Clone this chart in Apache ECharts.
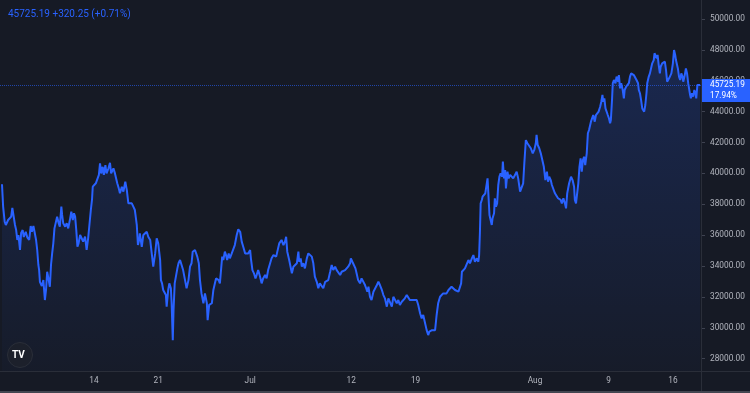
<!DOCTYPE html>
<html>
<head>
<meta charset="utf-8">
<script src="https://cdn.jsdelivr.net/npm/echarts@6/dist/echarts.min.js"></script>
<style>
html,body{margin:0;padding:0;background:#161A25;}
#chart{width:750px;height:393px;}
</style>
</head>
<body>
<div id="chart"></div>
<script>
// ---- data (BTC/USD, hours since 2021-06-04 00:00 UTC, close price) ----
const startDate = '2021-06-04T00:00:00Z';
const viewStartHour = -5.2;
const viewEndHour = 1825.4;
const pricePoints = [
[0,39300],[3,37850],[7,36870],[10,36660],[16,36980],[24,37200],[27,37760],[31,37700],[34,36660],[37,36330],
[40,35690],[43,36010],[47,35040],[50,36140],[54,36330],[57,35880],[62,36220],[66,35860],[71,35690],[75,36590],
[78,36220],[82,36590],[85,36220],[89,35690],[92,35040],[95,34070],[97,33740],[99,32980],[104,32700],[108,33090],
[110,32450],[112,31800],[115,32450],[118,33630],[122,33090],[125,32660],[128,34070],[131,34820],[134,35470],[137,36440],
[140,36550],[144,37200],[148,36770],[151,36550],[155,37850],[157,37310],[160,36770],[165,36550],[169,36770],[173,36440],
[178,37090],[181,37520],[185,36980],[188,37420],[191,37200],[194,36330],[197,35250],[200,35470],[204,36010],[208,35800],
[212,35580],[217,35900],[221,35040],[225,35800],[228,35900],[232,37630],[235,38280],[237,39140],[241,39100],[245,39360],
[249,39250],[253,39900],[256,40650],[259,40000],[263,40430],[266,39900],[270,40540],[273,40000],[278,40330],[282,40690],
[285,40000],[291,40330],[295,40000],[298,40110],[301,39360],[305,39030],[308,38710],[313,39140],[317,38820],[322,39460],
[326,38920],[330,38060],[334,37950],[339,38060],[343,37850],[347,37630],[352,36660],[355,35360],[359,35800],
[360,36120],[365,35250],[369,36010],[373,36120],[378,36220],[382,35900],[387,35690],[391,35800],[395,33960],[400,34820],
[404,35800],[408,35470],[413,34390],[415,33090],[418,32880],[421,32450],[426,32450],[428,32120],[430,31370],[434,32450],
[437,32880],[441,32560],[443,31590],[446,29200],[448,31150],[451,32880],[454,32880],[458,33850],[461,34180],[465,34390],
[469,34070],[473,33740],[478,33090],[482,32560],[487,33090],[491,33960],[495,34180],[498,34930],[501,34820],[504,35040],
[507,35150],[510,34610],[514,34180],[517,33090],[521,32230],[526,31590],[530,32230],[535,31590],[537,30500],[541,31480],
[545,31370],[548,31590],[552,32450],[556,32880],[559,33200],[562,33310],[566,33090],[569,32880],[572,33740],[575,34610],
[578,34390],[582,34930],[585,34710],[588,34390],[592,34820],[595,34500],[600,34820],[604,34930],[608,35360],[613,36010],
[617,36380],[622,36220],[626,35580],[630,35250],[635,34820],[639,34930],[643,34820],[648,35040],[650,34500],[654,33740],
[658,33530],[662,33200],[665,33420],[669,33740],[674,33310],[678,32880],[682,33200],[687,33420],[691,33200],[695,33740],
[700,33740],[704,34500],[709,34710],[716,34610],[720,34710],[724,35470],
[730,35690],[735,35360],[739,35580],[742,35900],[745,34930],[750,34390],[754,34500],[757,33530],[761,33960],[765,33850],
[770,34180],[774,34930],[776,34280],[780,34500],[783,33960],[787,34180],[791,33850],[796,34500],[800,34820],[804,34820],
[809,34610],[813,34180],[817,33310],[822,32980],[826,32560],[830,32880],[835,32980],[839,32560],[844,32980],[848,32880],
[852,33090],[857,33630],[861,34070],[865,33740],[870,33960],[874,33740],[878,33850],[883,33420],[887,33630],[891,33530],
[896,33740],[900,33850],[904,33960],[909,34180],[911,34500],[915,34280],[919,34180],[923,33850],[926,33530],[930,33090],
[935,32880],[939,33200],[944,33090],[948,32770],[951,32560],[954,32340],[957,32660],[961,32010],[965,31800],[970,32340],
[974,32450],[979,32770],[983,32980],[987,32770],[992,32450],[996,32120],[1000,31910],[1005,31370],[1009,31910],[1013,31800],
[1018,31370],[1022,32010],[1026,32120],[1031,31590],[1035,31800],[1039,31480],[1044,31690],[1048,31800],[1052,31910],[1057,32120],
[1061,32230],[1065,31800],[1070,31690],[1074,31800],[1079,31690],[1083,31800],[1087,31480],[1092,30930],[1096,30610],[1100,30830],
[1105,30720],[1109,29850],[1113,29530],[1116,29750],[1120,29640],[1123,29850],[1126,29750],[1131,29850],[1135,30830],[1139,31590],
[1144,32010],[1148,32010],[1152,32230],[1157,32120],[1161,32230],[1166,32450],[1170,32340],[1174,32660],[1179,32770],[1183,32450],
[1187,32560],[1192,32340],[1196,32230],[1199,32880],[1201,33630],[1205,33740],[1209,33850],[1214,33960],[1218,34390],[1222,34180],
[1227,34500],[1231,34710],[1235,34280],[1240,34500],[1244,34280],[1246,34710],[1248,36120],[1250,38060],[1253,38280],[1255,38490],
[1259,38390],[1262,38710],[1266,38600],[1268,39680],[1271,38280],[1273,37310],[1276,36980],[1279,36660],[1281,37090],[1285,37420],
[1287,38390],[1290,37850],[1293,38060],[1296,39250],[1299,39790],[1302,40000],[1306,39790],[1308,40760],[1311,39680],[1314,40220],
[1316,39030],[1320,40110],[1323,39680],[1327,39900],[1331,40000],[1335,39680],[1340,39790],[1344,40110],[1348,39680],[1353,38820],
[1357,38920],[1361,39360],[1364,40650],[1368,42160],[1372,41950],[1376,41840],[1381,41630],[1386,41300],[1390,41520],[1394,41950],
[1396,42490],[1399,41840],[1403,41630],[1407,41300],[1412,41190],[1415,40430],[1419,39570],[1423,40110],[1426,39460],[1429,39790],
[1433,39570],[1436,39250],[1440,39360],[1444,38710],[1449,38600],[1452,38390],[1455,38490],
[1459,38280],[1462,38060],[1466,38390],[1470,38060],[1473,37740],[1476,38710],[1481,39360],[1486,39790],[1490,39570],[1494,39140],
[1496,38280],[1499,38060],[1502,38060],[1505,39360],[1508,40430],[1511,40980],[1514,40110],[1517,40870],[1520,41080],[1523,40540],
[1527,41300],[1530,42600],[1533,42810],[1536,43130],[1538,43350],[1542,43460],[1544,43780],[1548,43350],[1551,43780],[1555,43670],
[1558,44000],[1562,44320],[1565,44640],[1568,45080],[1570,44640],[1573,44860],[1576,44210],[1579,44320],[1582,43780],[1585,43570],
[1588,43240],[1590,43460],[1593,44750],[1595,45840],[1598,46050],[1602,45840],[1605,46270],[1609,45940],[1611,46370],[1614,45510],
[1617,45840],[1621,45400],[1624,44860],[1626,45400],[1630,45620],[1634,45510],[1637,45840],[1640,46270],[1643,46480],[1647,46590],
[1650,46370],[1654,46480],[1657,46050],[1661,45840],[1663,45400],[1666,45190],[1669,44750],[1672,44210],[1675,44100],[1677,44000],
[1680,44430],[1683,45190],[1685,45840],[1689,46270],[1692,46480],[1695,46590],[1698,47130],[1702,47340],[1704,47780],[1707,47670],
[1710,47450],[1712,47670],[1715,47020],[1718,46480],[1720,46910],[1724,47130],[1727,47020],[1731,47240],[1734,46700],[1737,45940],
[1739,45840],[1742,46160],[1744,46270],[1748,46480],[1752,47130],[1755,47990],[1758,47670],[1760,47340],[1763,47450],[1765,46800],
[1768,46270],[1771,46050],[1774,46480],[1777,46270],[1779,45940],[1783,46370],[1786,46800],[1789,46480],[1792,45840],[1794,45730],
[1797,45080],[1799,44860],[1802,45190],[1805,44970],[1808,45400],[1811,45190],[1813,44860],[1816,45730],[1820,45840],[1823,45725.19]
];
const lastPrice = 45725.19;
const headerText = '45725.19 +320.25 (+0.71%)';
const priceBoxLines = ['45725.19', '17.94%'];
const yMin = 27203, yMax = 51231;
const xTickDates = ['2021-06-14','2021-06-21','2021-07-01','2021-07-12','2021-07-19','2021-08-01','2021-08-09','2021-08-16'];
const xTickLabels = ['14','21','Jul','12','19','Aug','9','16'];

// ---- build ----
const startMs = Date.parse(startDate);
const H = 3600000;
const tickHours = xTickDates.map(d => Math.round((Date.parse(d + 'T00:00:00Z') - startMs) / H));
const FONT = 'Roboto, "Liberation Sans", sans-serif';
const BLUE = '#2962FF';

const chart = echarts.init(document.getElementById('chart'), null, {renderer: 'canvas'});
chart.setOption({
  animation: false,
  backgroundColor: '#161A25',
  textStyle: {fontFamily: FONT},
  grid: {left: 0, top: 0, width: 701, height: 371, containLabel: false},
  xAxis: {
    type: 'value',
    min: viewStartHour,
    max: viewEndHour,
    axisLine: {show: false, onZero: false},
    axisTick: {show: false},
    splitLine: {show: false},
    axisLabel: {
      customValues: tickHours,
      formatter: function (v) { const i = tickHours.indexOf(Math.round(v)); return i >= 0 ? xTickLabels[i] : ''; },
      color: '#B2B5BE', fontSize: 8.3, fontFamily: FONT, margin: 6
    }
  },
  yAxis: {
    type: 'value',
    position: 'right',
    min: yMin, max: yMax,
    splitNumber: 12,
    axisLine: {show: false, onZero: false},
    axisTick: {show: true, length: 4, lineStyle: {color: '#3E4250'}},
    splitLine: {show: false},
    axisLabel: {
      showMinLabel: false, showMaxLabel: false,
      formatter: v => v.toFixed(2),
      color: '#B2B5BE', fontSize: 8.3, fontFamily: FONT, margin: 9
    }
  },
  series: [{
    type: 'line',
    data: pricePoints,
    showSymbol: false,
    symbol: 'none',
    lineStyle: {color: BLUE, width: 2},
    areaStyle: {
      color: new echarts.graphic.LinearGradient(0, 0, 0, 1, [
        {offset: 0, color: 'rgba(41,98,255,0.28)'},
        {offset: 1, color: 'rgba(41,98,255,0.03)'}
      ])
    },
    markLine: {
      silent: true,
      symbol: ['none', 'none'],
      label: {show: false},
      lineStyle: {type: 'dotted', color: 'rgba(41,98,255,0.6)', width: 1},
      data: [{yAxis: lastPrice}]
    }
  }],
  graphic: [
    {type: 'rect', z: 50, shape: {x: 0, y: 371, width: 750, height: 1}, style: {fill: '#2A2E39'}},
    {type: 'rect', z: 50, shape: {x: 701, y: 0, width: 1, height: 393}, style: {fill: '#2A2E39'}},
    {type: 'rect', z: 50, shape: {x: 0, y: 391, width: 750, height: 2}, style: {fill: '#434651'}},
    {type: 'text', z: 50, left: 8, top: 9, style: {text: headerText, fill: BLUE, font: '10px ' + FONT}},
    {type: 'rect', z: 100, shape: {x: 702, y: 79, width: 48, height: 23}, style: {fill: BLUE}},
    {type: 'text', z: 101, left: 710, top: 81, style: {text: priceBoxLines[0], fill: '#FFFFFF', font: '8.3px ' + FONT}},
    {type: 'text', z: 101, left: 710, top: 92, style: {text: priceBoxLines[1], fill: '#FFFFFF', font: '8.3px ' + FONT}},
    {type: 'circle', z: 50, shape: {cx: 20, cy: 355, r: 12.5}, style: {fill: '#1C202B', stroke: '#2A2E39', lineWidth: 1}},
    {type: 'text', z: 51, left: 12, top: 350, style: {text: 'TV', fill: '#FFFFFF', font: 'bold 10px ' + FONT}}
  ]
});
</script>
</body>
</html>
